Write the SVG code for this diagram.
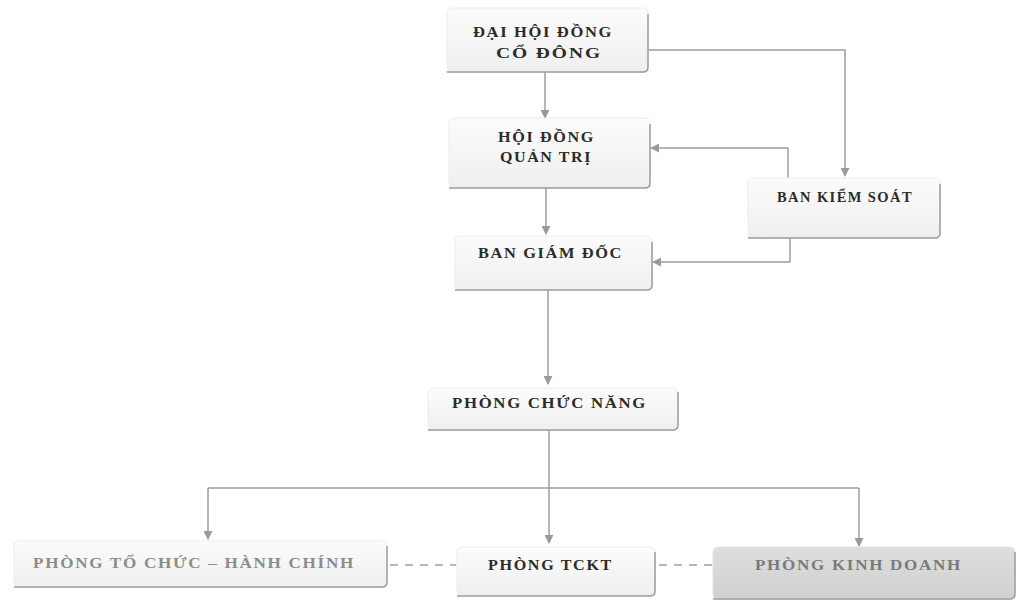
<svg xmlns="http://www.w3.org/2000/svg" width="1025" height="605" viewBox="0 0 1025 605">
<defs>
<linearGradient id="g" x1="0" y1="0" x2="0" y2="1">
<stop offset="0" stop-color="#fcfcfc"/>
<stop offset="1" stop-color="#efefef"/>
</linearGradient>
<linearGradient id="gd" x1="0" y1="0" x2="0" y2="1">
<stop offset="0" stop-color="#dedede"/>
<stop offset="1" stop-color="#d0d0d0"/>
</linearGradient>
<marker id="ah" viewBox="0 0 10 10" refX="9" refY="5" markerWidth="9" markerHeight="9" markerUnits="userSpaceOnUse" orient="auto">
<path d="M0,0 L10,5 L0,10 z" fill="#9a9a9a"/>
</marker>
<style>
.box{fill:url(#g);stroke:#ececec;stroke-width:1}
.boxd{fill:url(#gd);stroke:#e2e2e2;stroke-width:1}
.edge{fill:none;stroke:#9c9c9c;stroke-width:1.5}
.t{font-family:"Liberation Serif","Times New Roman",serif;font-weight:bold;font-size:15px;letter-spacing:1.5px;fill:#2b2b2b}
.tg{fill:#8c8c8c}
.tk{fill:#7a7a7a}
.c{fill:none;stroke:#9e9e9e;stroke-width:1.5}
.d{fill:none;stroke:#9e9e9e;stroke-width:1.5;stroke-dasharray:8 7}
</style>
</defs>
<rect width="1025" height="605" fill="#ffffff"/>
<g id="connectors">
<path class="c" d="M545 72 V118" marker-end="url(#ah)"/>
<path class="c" d="M546 188 V234" marker-end="url(#ah)"/>
<path class="c" d="M548 290 V384" marker-end="url(#ah)"/>
<path class="c" d="M549 430 V543" marker-end="url(#ah)"/>
<path class="c" d="M208 488 H859"/>
<path class="c" d="M208 488 V539" marker-end="url(#ah)"/>
<path class="c" d="M859 488 V546" marker-end="url(#ah)"/>
<path class="c" d="M648 50 H845 V176" marker-end="url(#ah)"/>
<path class="c" d="M788 178 V148 H651" marker-end="url(#ah)"/>
<path class="c" d="M790 238 V262 H653" marker-end="url(#ah)"/>
<path class="d" d="M390 565 H456"/>
<path class="d" d="M659 565 H712"/>
</g>
<g id="n1">
<rect class="box" x="447" y="8" width="201" height="64" rx="5"/>
<path class="edge" d="M648 14 V67 Q648 72 643 72 H447"/>
<text class="t" x="473" y="37" textLength="140" lengthAdjust="spacingAndGlyphs">ĐẠI HỘI ĐỒNG</text>
<text class="t" x="496" y="58" textLength="106" lengthAdjust="spacingAndGlyphs">CỔ ĐÔNG</text>
</g>
<g id="n2">
<rect class="box" x="449" y="118" width="201" height="70" rx="5"/>
<path class="edge" d="M650 124 V183 Q650 188 645 188 H449"/>
<text class="t" x="498" y="142" textLength="97" lengthAdjust="spacingAndGlyphs">HỘI ĐỒNG</text>
<text class="t" x="500" y="162" textLength="92" lengthAdjust="spacingAndGlyphs">QUẢN TRỊ</text>
</g>
<g id="n3">
<rect class="box" x="455" y="236" width="197" height="54" rx="5"/>
<path class="edge" d="M652 242 V285 Q652 290 647 290 H455"/>
<text class="t" x="478" y="258" textLength="145" lengthAdjust="spacingAndGlyphs">BAN GIÁM ĐỐC</text>
</g>
<g id="n4">
<rect class="box" x="748" y="178" width="192" height="60" rx="5"/>
<path class="edge" d="M940 184 V233 Q940 238 935 238 H748"/>
<text class="t" x="777" y="202" textLength="136" lengthAdjust="spacingAndGlyphs">BAN KIỂM SOÁT</text>
</g>
<g id="n5">
<rect class="box" x="428" y="388" width="250" height="42" rx="5"/>
<path class="edge" d="M678 392 V425 Q678 430 673 430 H428"/>
<text class="t" x="452" y="408" textLength="195" lengthAdjust="spacingAndGlyphs">PHÒNG CHỨC NĂNG</text>
</g>
<g id="n6">
<rect class="box" x="14" y="541" width="373" height="46" rx="5"/>
<path class="edge" d="M387 546 V582 Q387 587 382 587 H14"/>
<text class="t tg" x="33" y="568" textLength="322" lengthAdjust="spacingAndGlyphs">PHÒNG TỔ CHỨC – HÀNH CHÍNH</text>
</g>
<g id="n7">
<rect class="box" x="457" y="547" width="198" height="49" rx="5"/>
<path class="edge" d="M655 552 V591 Q655 596 650 596 H457"/>
<text class="t" x="488" y="570" textLength="125" lengthAdjust="spacingAndGlyphs">PHÒNG TCKT</text>
</g>
<g id="n8">
<rect class="boxd" x="713" y="547" width="302" height="52" rx="5"/>
<path class="edge" d="M1015 552 V594 Q1015 599 1010 599 H713"/>
<text class="t tk" x="755" y="570" textLength="207" lengthAdjust="spacingAndGlyphs">PHÒNG KINH DOANH</text>
</g>
</svg>
